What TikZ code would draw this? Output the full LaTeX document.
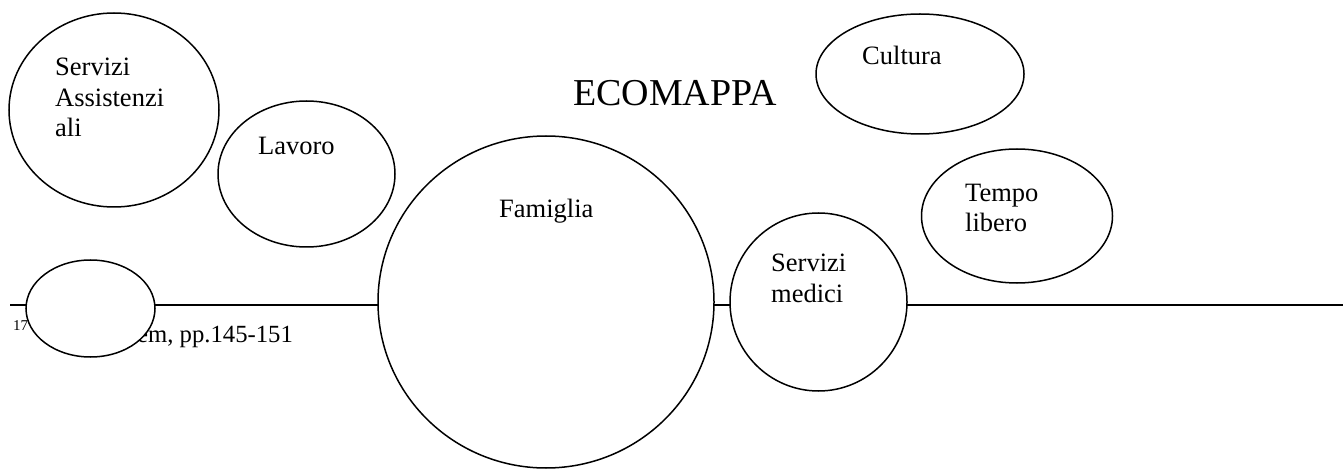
\documentclass[tikz,border=0pt]{standalone}
\usepackage{fontspec}
\setmainfont{Liberation Serif}
\usetikzlibrary{shapes.geometric}
\begin{document}
\begin{tikzpicture}[x=1pt,y=-1pt,
    bolla/.style={ellipse,draw=black,fill=white,line width=1.5pt,inner sep=0pt},
    testo/.style={anchor=base west,inner sep=0pt,align=left,font=\fontsize{26.5}{30.5}\selectfont}]
    \useasboundingbox (0,0) rectangle (1343,470);

    \coordinate (rigaA) at (10,305);
    \coordinate (rigaB) at (1343,305);
    \draw[line width=2pt] (rigaA) -- (rigaB);

    \node[testo,font=\fontsize{15}{15}\selectfont] (nota) at (13,330) {17};
    \node[testo,font=\fontsize{24.7}{30}\selectfont] (fonte) at (137,342) {em, pp.145-151};

    \node[bolla,minimum width=210,minimum height=194] (assist) at (114,110) {};
    \node[bolla,minimum width=177,minimum height=146] (lavoro) at (306.5,174) {};
    \node[bolla,minimum width=336,minimum height=332] (famiglia) at (546,302) {};
    \node[bolla,minimum width=177,minimum height=178] (medici) at (818.5,302) {};
    \node[bolla,minimum width=208,minimum height=120] (cultura) at (920,74) {};
    \node[bolla,minimum width=191,minimum height=134] (tempo) at (1017,216) {};
    \node[bolla,minimum width=129,minimum height=97] (vuoto) at (90.5,308.5) {};

    \node[testo,font=\fontsize{38}{40}\selectfont] (titolo) at (573,106) {ECOMAPPA};
    \node[testo] (assistTxt) at (55,137) {Servizi\\Assistenzi\\ali};
    \node[testo] (lavoroTxt) at (258,155) {Lavoro};
    \node[testo] (famigliaTxt) at (499,218) {Famiglia};
    \node[testo] (mediciTxt) at (771,302) {Servizi\\medici};
    \node[testo] (culturaTxt) at (862,65) {Cultura};
    \node[testo] (tempoTxt) at (965,232) {Tempo\\libero};
\end{tikzpicture}
\end{document}
